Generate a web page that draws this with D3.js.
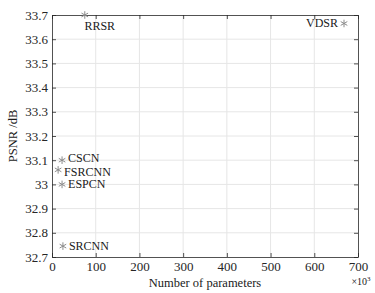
<!DOCTYPE html>
<html><head><meta charset="utf-8">
<script src="https://cdn.jsdelivr.net/npm/d3@7"></script>
<style>body{margin:0;background:#fff}svg{display:block}</style>
</head><body>
<script>
const methods = ["RRSR","VDSR","CSCN","FSRCNN","ESPCN","SRCNN"];
const params  = [75, 668, 23, 14, 23, 25];          // ×10^3
const psnr    = [33.70, 33.665, 33.10, 33.06, 33.00, 32.745];
const labelPos = ["below","left","right","right","right","right"];
const labelDy  = [15, 4, 2, 6, 4, 4];
const xTicks = [0,100,200,300,400,500,600,700];
const yTicks = [32.7,32.8,32.9,33,33.1,33.2,33.3,33.4,33.5,33.6,33.7];

const W=375,H=293;
const m={l:52,r:17,t:15,b:36};
const svg=d3.select("body").append("svg").attr("width",W).attr("height",H)
  .style("font-family","'Liberation Serif','Times New Roman',serif");
const x=d3.scaleLinear().domain([0,700]).range([m.l,W-m.r]);
const y=d3.scaleLinear().domain([32.7,33.7]).range([H-m.b,m.t]);

// grid
svg.append("g").selectAll("line").data(xTicks.slice(1,-1)).join("line")
  .attr("x1",d=>x(d)).attr("x2",d=>x(d)).attr("y1",y(32.7)).attr("y2",y(33.7))
  .attr("stroke","#e6e6e6").attr("stroke-width",1);
svg.append("g").selectAll("line").data(yTicks.slice(1,-1)).join("line")
  .attr("y1",d=>y(d)).attr("y2",d=>y(d)).attr("x1",x(0)).attr("x2",x(700))
  .attr("stroke","#e6e6e6").attr("stroke-width",1);

// axes
const fmtY=d=>d3.format("")(+d.toFixed(1));
const gx=svg.append("g").attr("transform",`translate(0,${y(32.7)})`)
  .call(d3.axisBottom(x).tickValues(xTicks).tickSizeInner(-4).tickSizeOuter(0).tickPadding(5));
const gy=svg.append("g").attr("transform",`translate(${x(0)},0)`)
  .call(d3.axisLeft(y).tickValues(yTicks).tickFormat(fmtY).tickSizeInner(-4).tickSizeOuter(0).tickPadding(4));
const gxt=svg.append("g").attr("transform",`translate(0,${y(33.7)})`)
  .call(d3.axisTop(x).tickValues(xTicks).tickSizeInner(-4).tickSizeOuter(0).tickFormat(""));
const gyr=svg.append("g").attr("transform",`translate(${x(700)},0)`)
  .call(d3.axisRight(y).tickValues(yTicks).tickSizeInner(-4).tickSizeOuter(0).tickFormat(""));
[gx,gy,gxt,gyr].forEach(g=>{
  g.selectAll("path,line").attr("stroke","#262626").attr("stroke-width",0.8);
  g.selectAll("text").attr("fill","#262626").style("font-size","13px").style("font-family","'Liberation Serif',serif");
});

// points
const sym=d3.symbol().type(d3.symbolAsterisk).size(40);
const pts=methods.map((mth,i)=>({m:mth,x:params[i],y:psnr[i],p:labelPos[i],dy:labelDy[i]}));
svg.append("g").selectAll("path").data(pts).join("path")
  .attr("d",sym).attr("transform",d=>`translate(${x(d.x)},${y(d.y)})`)
  .attr("fill","none").attr("stroke","#8c8c8c").attr("stroke-width",1);
svg.append("g").selectAll("text").data(pts).join("text")
  .attr("x",d=>d.p==="below"?x(d.x)+15:d.p==="left"?x(d.x)-6:x(d.x)+6)
  .attr("y",d=>y(d.y)+d.dy)
  .attr("text-anchor",d=>d.p==="below"?"middle":d.p==="left"?"end":"start")
  .style("font-size","12px").attr("fill","#1a1a1a").text(d=>d.m);

// labels
svg.append("text").attr("x",(x(0)+x(700))/2).attr("y",H-6).attr("text-anchor","middle")
  .style("font-size","12.5px").attr("fill","#1a1a1a").text("Number of parameters");
svg.append("text").attr("x",x(700)+3).attr("y",H-8).attr("text-anchor","middle")
  .style("font-size","10px").attr("fill","#1a1a1a").html("×10<tspan dy='-4' font-size='7px'>3</tspan>");
svg.append("text").attr("transform",`translate(17,${(y(32.7)+y(33.7))/2}) rotate(-90)`)
  .attr("text-anchor","middle").style("font-size","12.5px").attr("fill","#1a1a1a").text("PSNR /dB");
</script>
</body></html>
